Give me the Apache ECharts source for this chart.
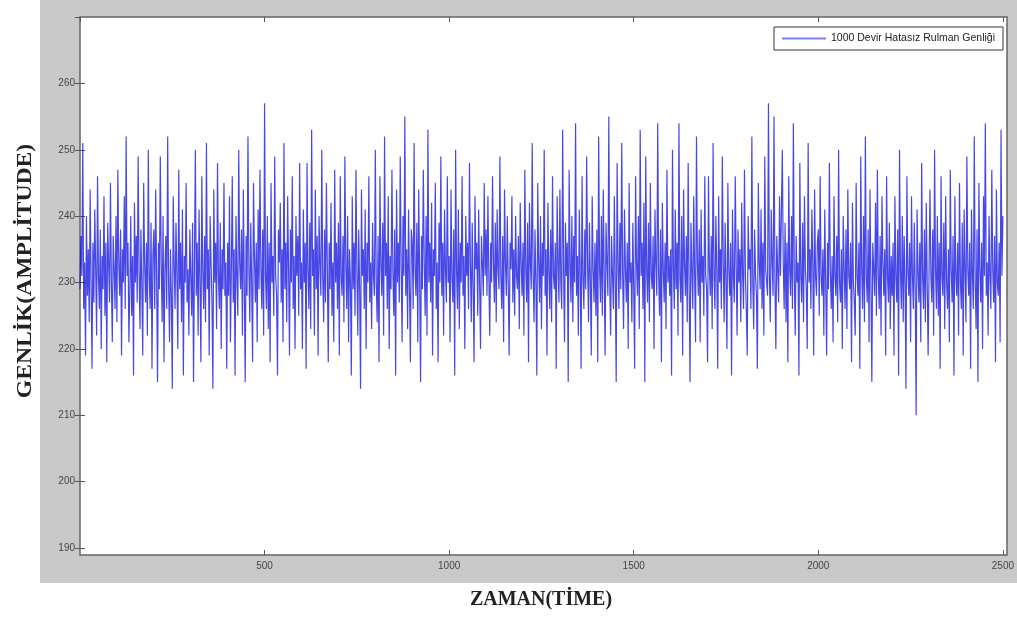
<!DOCTYPE html>
<html>
<head>
<meta charset="utf-8">
<script src="https://cdn.jsdelivr.net/npm/echarts@6/dist/echarts.min.js"></script>
<style>
  html, body { margin: 0; padding: 0; background: #fff; }
  #main { width: 1017px; height: 618px; }
</style>
</head>
<body>
<div id="main"></div>
<script>
var timeMax = 2500;
var xTicks = [500, 1000, 1500, 2000, 2500];
var yTicks = [190, 200, 210, 220, 230, 240, 250, 260];
var seriesName = '1000 Devir Hatasız Rulman Genliği';

// amplitude, one row = 100 time units
var amplitude = [
  229,237,231,251,226,233,219,240,228,235,224,244,230,217,236,227,241,232,222,246,231,226,238,220,234,229,243,225,236,218,239,233,227,245,230,221,237,232,226,240,
  224,247,233,228,238,219,235,230,243,226,252,231,236,221,229,240,225,234,216,242,230,237,227,249,232,223,238,229,219,245,233,227,236,222,250,231,226,239,217,234,
  238,226,244,231,215,236,229,249,233,224,240,218,232,237,226,252,230,221,235,228,214,243,233,226,239,231,220,247,229,236,224,241,216,234,230,245,227,232,222,238,
  231,225,239,215,233,250,228,236,222,241,230,218,246,232,226,237,224,251,229,235,219,240,233,227,214,244,230,236,223,248,231,226,239,220,235,229,245,228,233,217,
  236,228,243,221,232,246,227,235,216,240,231,225,250,233,229,238,222,244,230,215,237,228,252,232,224,239,230,218,245,234,227,236,221,241,229,247,232,226,238,222,
  257,231,226,240,223,236,218,245,230,234,225,249,231,228,216,238,233,242,227,235,221,251,229,236,224,243,232,219,238,230,246,226,234,220,240,231,237,225,248,229,
  233,220,241,230,236,217,248,232,226,239,223,253,231,235,222,244,229,237,219,240,233,228,250,231,224,238,227,245,232,218,236,229,242,225,233,221,247,230,236,226,
  239,219,246,231,228,237,224,249,233,226,240,221,235,230,216,243,229,236,225,247,232,222,238,229,214,244,231,235,226,241,220,236,230,246,227,233,223,239,231,228,
  250,230,224,237,218,246,233,228,239,222,252,231,236,226,243,220,234,229,247,232,225,238,216,244,230,236,227,249,233,221,240,231,255,228,235,223,241,230,218,238,
  236,226,251,232,228,239,221,244,231,215,237,229,247,233,225,240,222,253,230,236,227,242,219,235,231,245,226,233,218,239,230,249,228,236,222,241,232,227,246,230,
  234,221,244,231,227,238,216,250,232,226,241,223,236,230,246,228,234,220,240,231,236,226,248,233,224,239,229,218,243,232,236,225,241,230,220,237,233,228,245,231,
  238,228,243,231,222,236,230,246,233,227,239,224,241,232,229,249,231,226,237,221,244,233,228,240,230,219,236,232,243,227,235,225,240,231,229,237,223,242,233,228,
  236,222,247,232,227,239,218,242,233,229,251,231,224,238,230,216,245,233,227,240,223,236,231,250,228,235,219,242,232,226,238,224,246,231,229,236,217,243,233,227,
  244,230,226,253,232,221,239,231,236,215,247,233,227,240,224,237,230,254,228,234,222,241,232,217,246,231,226,238,229,249,233,224,239,230,219,243,232,227,236,225,
  238,218,252,232,227,240,225,244,231,219,239,233,228,255,230,222,237,231,226,243,230,215,248,233,226,239,229,251,231,223,241,232,227,236,220,245,230,233,224,239,
  229,217,246,233,228,240,223,253,231,236,226,242,215,249,232,227,239,224,245,231,229,237,220,241,233,228,254,231,225,238,218,242,232,227,236,223,247,230,234,228,
  235,216,250,232,226,241,229,236,222,254,231,227,240,219,244,233,228,237,224,248,230,215,239,232,226,243,231,221,252,233,228,238,221,241,230,234,225,246,231,229,
  218,246,232,228,237,223,251,231,226,240,232,217,243,230,235,226,249,233,224,239,230,220,245,232,228,236,216,241,231,227,246,233,222,238,230,235,224,242,231,226,
  247,231,226,219,240,232,235,226,252,230,223,238,231,228,217,245,233,229,241,226,236,222,249,232,230,228,257,231,224,241,233,228,255,230,220,237,232,227,243,231,
  231,250,233,226,239,224,236,218,246,232,228,240,226,254,231,222,237,230,233,216,248,231,227,239,224,243,232,229,220,251,230,235,226,241,233,219,244,231,228,236,
  238,225,246,231,228,235,222,241,230,219,236,229,248,232,226,234,221,243,231,228,237,224,250,230,227,235,220,240,232,226,238,223,244,231,229,236,218,242,230,227,
  222,245,231,228,236,217,249,232,226,240,224,252,231,227,238,221,244,230,215,236,232,228,242,225,247,231,226,237,222,243,233,228,235,219,246,231,227,239,223,234,
  228,236,219,243,231,227,238,216,250,232,226,240,224,237,230,214,246,232,228,236,221,243,231,226,239,229,210,241,232,227,236,221,248,231,226,238,224,242,230,219,
  219,244,231,227,238,222,250,232,226,240,225,236,217,246,231,228,239,223,243,230,226,235,221,247,232,227,237,216,243,231,228,236,222,245,230,226,239,219,241,232,
  224,249,232,228,236,217,241,231,226,252,230,223,238,215,245,232,227,236,220,243,231,254,228,233,222,240,231,226,247,232,227,237,218,244,230,228,236,221,253,231,
  240
];

// samples are evenly spread over the time axis
var timeStep = timeMax / (amplitude.length - 1);
var points = amplitude.map(function (v, i) {
    return [i * timeStep, v];
});

var chart = echarts.init(document.getElementById('main'));

var tickStyle = { color: '#555', width: 1 };
var labelStyle = { color: '#444', fontSize: 10, fontFamily: 'Liberation Sans' };
function plain(v) { return String(v); }

chart.setOption({
    animation: false,
    backgroundColor: '#fff',
    graphic: [
        // gray figure background
        { type: 'rect', z: -10, shape: { x: 40, y: 0, width: 977, height: 583 }, style: { fill: '#c9c9c9' } },
        // axes box
        { type: 'rect', z: -9, shape: { x: 80, y: 17, width: 927, height: 538 }, style: { fill: '#fff', stroke: '#666', lineWidth: 1.5 } },
        {
            type: 'text', x: 541, y: 590, z: 10,
            style: { text: 'ZAMAN(TİME)', font: 'bold 20px "Liberation Serif"', fill: '#222', align: 'center', verticalAlign: 'top' }
        },
        {
            type: 'text', x: 16, y: 271, rotation: Math.PI / 2, scaleX: 1.18, z: 10,
            style: { text: 'GENLİK(AMPLİTUDE)', font: 'bold 20px "Liberation Serif"', fill: '#222', align: 'center', verticalAlign: 'top' }
        }
    ],
    grid: { left: 80, right: 10, top: 17, bottom: 70 },
    legend: {
        data: [seriesName],
        right: 14, top: 27,
        padding: [6, 8, 6, 8],
        backgroundColor: '#fff',
        borderColor: '#333', borderWidth: 1, borderRadius: 0,
        icon: 'rect',
        itemWidth: 44, itemHeight: 2,
        itemStyle: { color: '#7a7aff' },
        textStyle: { fontSize: 10.5, color: '#222', fontFamily: 'Liberation Sans' }
    },
    xAxis: [{
        type: 'value', min: 0, max: timeMax, interval: 500, offset: 7,
        axisLine: { show: false },
        axisTick: { show: true, inside: true, length: 5, lineStyle: tickStyle },
        axisLabel: Object.assign({ showMinLabel: false, margin: 6, formatter: plain }, labelStyle),
        splitLine: { show: false }
    }, {
        type: 'value', min: 0, max: timeMax, interval: 500, position: 'top',
        axisLine: { show: false },
        axisTick: { show: true, inside: true, length: 5, lineStyle: tickStyle },
        axisLabel: { show: false },
        splitLine: { show: false }
    }],
    yAxis: [{
        type: 'value', min: yTicks[0], max: 270, interval: 10,
        axisLine: { show: false },
        axisTick: { show: true, inside: true, length: 5, lineStyle: tickStyle },
        axisLabel: Object.assign({ margin: 5, showMaxLabel: false, formatter: plain }, labelStyle),
        splitLine: { show: false }
    }, {
        type: 'value', min: yTicks[0], max: 270, interval: 10, position: 'right',
        axisLine: { show: false },
        axisTick: { show: true, inside: true, length: 5, lineStyle: tickStyle },
        axisLabel: { show: false },
        splitLine: { show: false }
    }],
    series: [{
        name: seriesName,
        type: 'line',
        data: points,
        symbol: 'none',
        sampling: null,
        color: '#0000ff',
        lineStyle: { width: 1.2, color: '#0000dd', opacity: 0.72 }
    }]
});
</script>
</body>
</html>
